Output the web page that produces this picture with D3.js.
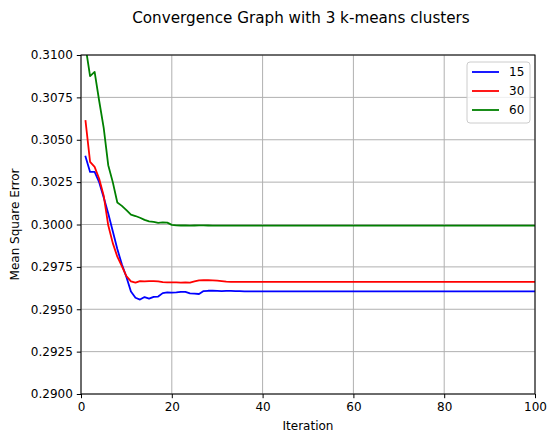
<!DOCTYPE html>
<html>
<head>
<meta charset="utf-8">
<script src="https://cdn.jsdelivr.net/npm/d3@7"></script>
<style>
  html, body { margin: 0; padding: 0; background: #fff; }
  svg { display: block; font-family: "DejaVu Sans", sans-serif; }
</style>
</head>
<body>
<svg id="chart" width="550" height="436"></svg>
<script>
// iterations 1..100
const iterations = d3.range(1, 101);

const seriesNames = ["15", "30", "60"];
const seriesColors = ["blue", "red", "green"];

const mse15 = [
  0.3040, 0.3031, 0.3031, 0.3025, 0.3016, 0.30065, 0.2996, 0.29855, 0.29765, 0.2969,
  0.29605, 0.29568, 0.29557, 0.29572, 0.29563, 0.29573, 0.29575, 0.29595, 0.29599, 0.29598,
  0.29600, 0.29603, 0.29602, 0.29594, 0.29592, 0.29590, 0.29607, 0.29609, 0.29609, 0.29608,
  0.29607, 0.29608, 0.29608, 0.29607, 0.29607, 0.29606, 0.29606, 0.29606, 0.29606, 0.29606,
  0.29606, 0.29606, 0.29606, 0.29606, 0.29606, 0.29606, 0.29606, 0.29606, 0.29606, 0.29606,
  0.29606, 0.29606, 0.29606, 0.29606, 0.29606, 0.29606, 0.29606, 0.29606, 0.29606, 0.29606,
  0.29606, 0.29606, 0.29606, 0.29606, 0.29606, 0.29606, 0.29606, 0.29606, 0.29606, 0.29606,
  0.29606, 0.29606, 0.29606, 0.29606, 0.29606, 0.29606, 0.29606, 0.29606, 0.29606, 0.29606,
  0.29606, 0.29606, 0.29606, 0.29606, 0.29606, 0.29606, 0.29606, 0.29606, 0.29606, 0.29606,
  0.29606, 0.29606, 0.29606, 0.29606, 0.29606, 0.29606, 0.29606, 0.29606, 0.29606, 0.29606
];

const mse30 = [
  0.3061, 0.3037, 0.3034, 0.3027, 0.3017, 0.29995, 0.2989, 0.2981, 0.29755, 0.29695,
  0.29665, 0.29657, 0.29666, 0.29664, 0.29666, 0.29666, 0.29665, 0.29660, 0.29658, 0.29658,
  0.29659, 0.29657, 0.29658, 0.29657, 0.29664, 0.29670, 0.29671, 0.29671, 0.29670, 0.29669,
  0.29666, 0.29663, 0.29662, 0.29662, 0.29662, 0.29661, 0.29661, 0.29661, 0.29661, 0.29661,
  0.29661, 0.29661, 0.29661, 0.29661, 0.29661, 0.29661, 0.29661, 0.29661, 0.29661, 0.29661,
  0.29661, 0.29661, 0.29661, 0.29661, 0.29661, 0.29661, 0.29661, 0.29661, 0.29661, 0.29661,
  0.29661, 0.29661, 0.29661, 0.29661, 0.29661, 0.29661, 0.29661, 0.29661, 0.29661, 0.29661,
  0.29661, 0.29661, 0.29661, 0.29661, 0.29661, 0.29661, 0.29661, 0.29661, 0.29661, 0.29661,
  0.29661, 0.29661, 0.29661, 0.29661, 0.29661, 0.29661, 0.29661, 0.29661, 0.29661, 0.29661,
  0.29661, 0.29661, 0.29661, 0.29661, 0.29661, 0.29661, 0.29661, 0.29661, 0.29661, 0.29661
];

const mse60 = [
  0.3105, 0.30875, 0.3090, 0.3073, 0.3057, 0.3035, 0.3025, 0.3013, 0.3011, 0.30085,
  0.30058, 0.30050, 0.30040, 0.30027, 0.30018, 0.30015, 0.30010, 0.30013, 0.30011, 0.29998,
  0.29995, 0.29994, 0.29994, 0.29993, 0.29994, 0.29995, 0.29995, 0.29994, 0.29993, 0.29993,
  0.29993, 0.29993, 0.29993, 0.29993, 0.29993, 0.29993, 0.29993, 0.29993, 0.29993, 0.29993,
  0.29993, 0.29993, 0.29993, 0.29993, 0.29993, 0.29993, 0.29993, 0.29993, 0.29993, 0.29993,
  0.29993, 0.29993, 0.29993, 0.29993, 0.29993, 0.29993, 0.29993, 0.29993, 0.29993, 0.29993,
  0.29993, 0.29993, 0.29993, 0.29993, 0.29993, 0.29993, 0.29993, 0.29993, 0.29993, 0.29993,
  0.29993, 0.29993, 0.29993, 0.29993, 0.29993, 0.29993, 0.29993, 0.29993, 0.29993, 0.29993,
  0.29993, 0.29993, 0.29993, 0.29993, 0.29993, 0.29993, 0.29993, 0.29993, 0.29993, 0.29993,
  0.29993, 0.29993, 0.29993, 0.29993, 0.29993, 0.29993, 0.29993, 0.29993, 0.29993, 0.29993
];

const xTicks = [0, 20, 40, 60, 80, 100];
const yTicks = [0.2900, 0.2925, 0.2950, 0.2975, 0.3000, 0.3025, 0.3050, 0.3075, 0.3100];

const margin = { left: 81, top: 55, right: 15, bottom: 42 };
const width = 550 - margin.left - margin.right;   // 454
const height = 436 - margin.top - margin.bottom;  // 339

const svg = d3.select("#chart");

const x = d3.scaleLinear().domain([0, 100]).range([0, width]);
const y = d3.scaleLinear().domain([0.29, 0.31]).range([height, 0]);

svg.append("defs").append("clipPath")
  .attr("id", "plot-clip")
  .append("rect")
  .attr("width", width)
  .attr("height", height);

const g = svg.append("g")
  .attr("transform", `translate(${margin.left},${margin.top})`);

// grid
g.append("g")
  .selectAll("line.gx")
  .data(xTicks)
  .enter()
  .append("line")
  .attr("x1", d => x(d)).attr("x2", d => x(d))
  .attr("y1", 0).attr("y2", height)
  .attr("stroke", "#b0b0b0")
  .attr("stroke-width", 1);

g.append("g")
  .selectAll("line.gy")
  .data(yTicks)
  .enter()
  .append("line")
  .attr("x1", 0).attr("x2", width)
  .attr("y1", d => y(d)).attr("y2", d => y(d))
  .attr("stroke", "#b0b0b0")
  .attr("stroke-width", 1);

// lines
const allSeries = [mse15, mse30, mse60];
const line = d3.line()
  .x((d, i) => x(iterations[i]))
  .y(d => y(d));

const plot = g.append("g").attr("clip-path", "url(#plot-clip)");
allSeries.forEach((vals, k) => {
  plot.append("path")
    .datum(vals)
    .attr("d", line)
    .attr("fill", "none")
    .attr("stroke", seriesColors[k])
    .attr("stroke-width", 1.8)
    .attr("stroke-linejoin", "round")
    .attr("stroke-linecap", "square");
});

// axes
const xAxis = d3.axisBottom(x)
  .tickValues(xTicks)
  .tickSize(4.2)
  .tickPadding(4)
  .tickFormat(d3.format("d"));

const yAxis = d3.axisLeft(y)
  .tickValues(yTicks)
  .tickSize(4.2)
  .tickPadding(4)
  .tickFormat(d3.format(".4f"));

const gx = g.append("g")
  .attr("transform", `translate(0,${height})`)
  .call(xAxis);

const gy = g.append("g").call(yAxis);

[gx, gy].forEach(ax => {
  ax.select(".domain").remove();
  ax.selectAll("text")
    .attr("font-family", "DejaVu Sans")
    .attr("font-size", 12)
    .attr("fill", "#000");
  ax.selectAll("line").attr("stroke", "#000").attr("stroke-width", 1);
});

// spines
g.append("rect")
  .attr("x", 0).attr("y", 0)
  .attr("width", width).attr("height", height)
  .attr("fill", "none")
  .attr("stroke", "#000")
  .attr("stroke-width", 1);

// title & labels
svg.append("text")
  .attr("x", 301)
  .attr("y", 23)
  .attr("text-anchor", "middle")
  .attr("font-size", 15.2)
  .text("Convergence Graph with 3 k-means clusters");

svg.append("text")
  .attr("x", margin.left + width / 2)
  .attr("y", 430)
  .attr("text-anchor", "middle")
  .attr("font-size", 12)
  .text("Iteration");

svg.append("text")
  .attr("transform", `translate(19,${margin.top + height / 2}) rotate(-90)`)
  .attr("text-anchor", "middle")
  .attr("font-size", 12)
  .text("Mean Square Error");

// legend
const legend = g.append("g")
  .attr("transform", `translate(${width - 68},7)`);

legend.append("rect")
  .attr("width", 63)
  .attr("height", 61)
  .attr("rx", 3)
  .attr("fill", "#fff")
  .attr("fill-opacity", 0.8)
  .attr("stroke", "#cccccc")
  .attr("stroke-width", 1);

seriesNames.forEach((name, k) => {
  const row = legend.append("g")
    .attr("transform", `translate(0,${10 + k * 19})`);
  row.append("line")
    .attr("x1", 5).attr("x2", 32)
    .attr("y1", 0).attr("y2", 0)
    .attr("stroke", seriesColors[k])
    .attr("stroke-width", 1.8);
  row.append("text")
    .attr("x", 42)
    .attr("y", 0)
    .attr("dy", "0.35em")
    .attr("font-size", 12)
    .text(name);
});
</script>
</body>
</html>
